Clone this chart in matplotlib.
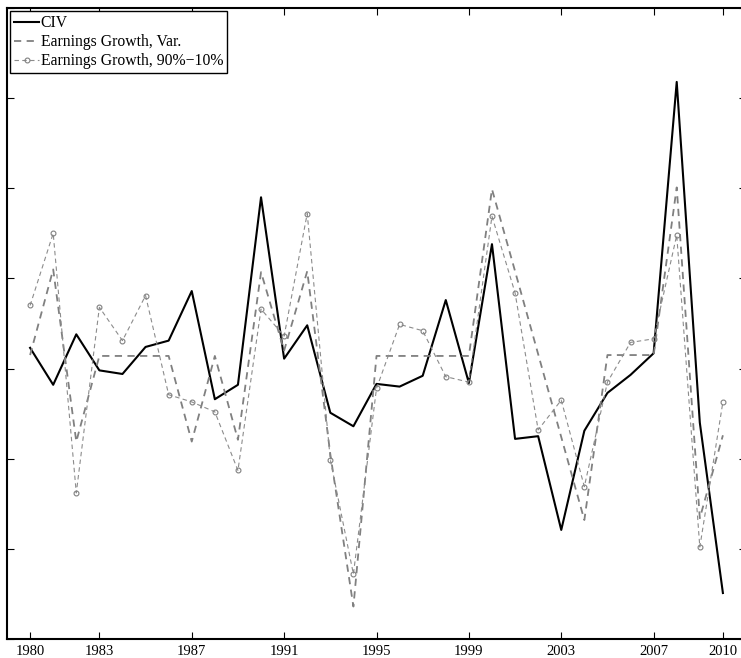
import matplotlib.pyplot as plt
import numpy as np

plt.rcParams['font.family'] = ['Liberation Serif', 'DejaVu Serif']

years = np.arange(1980, 2011)

civ = [0.23, -0.18, 0.38, -0.02, -0.06, 0.24, 0.31, 0.86, -0.34, -0.18,
       1.90, 0.11, 0.48, -0.49, -0.64, -0.17, -0.20, -0.08, 0.76, -0.16,
       1.38, -0.78, -0.75, -1.79, -0.69, -0.27, -0.07, 0.17, 3.18, -0.60,
       -2.49]

eg_var = [0.15, 1.10, -0.81, 0.14, 0.14, 0.14, 0.14, -0.81, 0.14, -0.79,
          1.07, 0.20, 1.08, -0.95, -2.64, 0.14, 0.14, 0.14, 0.14, 0.14,
          1.99, 1.08, 0.16, -0.76, -1.68, 0.15, 0.15, 0.15, 2.01, -1.66,
          -0.74]

eg_9010 = [0.70, 1.50, -1.38, 0.68, 0.31, 0.81, -0.29, -0.37, -0.48, -1.13,
           0.66, 0.36, 1.72, -1.01, -2.28, -0.22, 0.49, 0.42, -0.09, -0.15,
           1.69, 0.84, -0.68, -0.35, -1.31, -0.15, 0.29, 0.33, 1.48, -1.98,
           -0.37]

xtick_years = [1980, 1983, 1987, 1991, 1995, 1999, 2003, 2007, 2010]

fig = plt.figure(figsize=(7.41, 6.58), dpi=100)
ax = fig.add_axes([7 / 741, 19 / 658, 739 / 741, 631 / 658])

ax.plot(years, civ, color='black', lw=1.5, label='CIV')
ax.plot(years, eg_var, color='0.5', lw=1.3, ls=(0, (4, 3)),
        label='Earnings Growth, Var.')
ax.plot(years, eg_9010, color='0.55', lw=0.8, ls=(0, (4, 3)), marker='o',
        markersize=3.5, markerfacecolor='none', markeredgecolor='0.5',
        markeredgewidth=0.8, label='Earnings Growth, 90%\u221210%')

ax.set_xlim(1979, 2011)
ax.set_ylim(-3, 4)
ax.set_xticks(xtick_years)
ax.set_yticks(np.arange(-3, 5))
ax.set_yticklabels([])
ax.tick_params(direction='in', length=5, width=0.8, top=True, right=True,
               labelsize=10.5, pad=4)
for sp in ax.spines.values():
    sp.set_linewidth(1.5)

leg = ax.legend(loc='upper left', fontsize=11.3, handlelength=1.6,
                handletextpad=0.1, borderpad=0.25, labelspacing=0.2,
                borderaxespad=0.2, fancybox=False, framealpha=1)
leg.get_frame().set_edgecolor('black')
leg.get_frame().set_linewidth(1.0)

fig.savefig('out.png', dpi=100)
